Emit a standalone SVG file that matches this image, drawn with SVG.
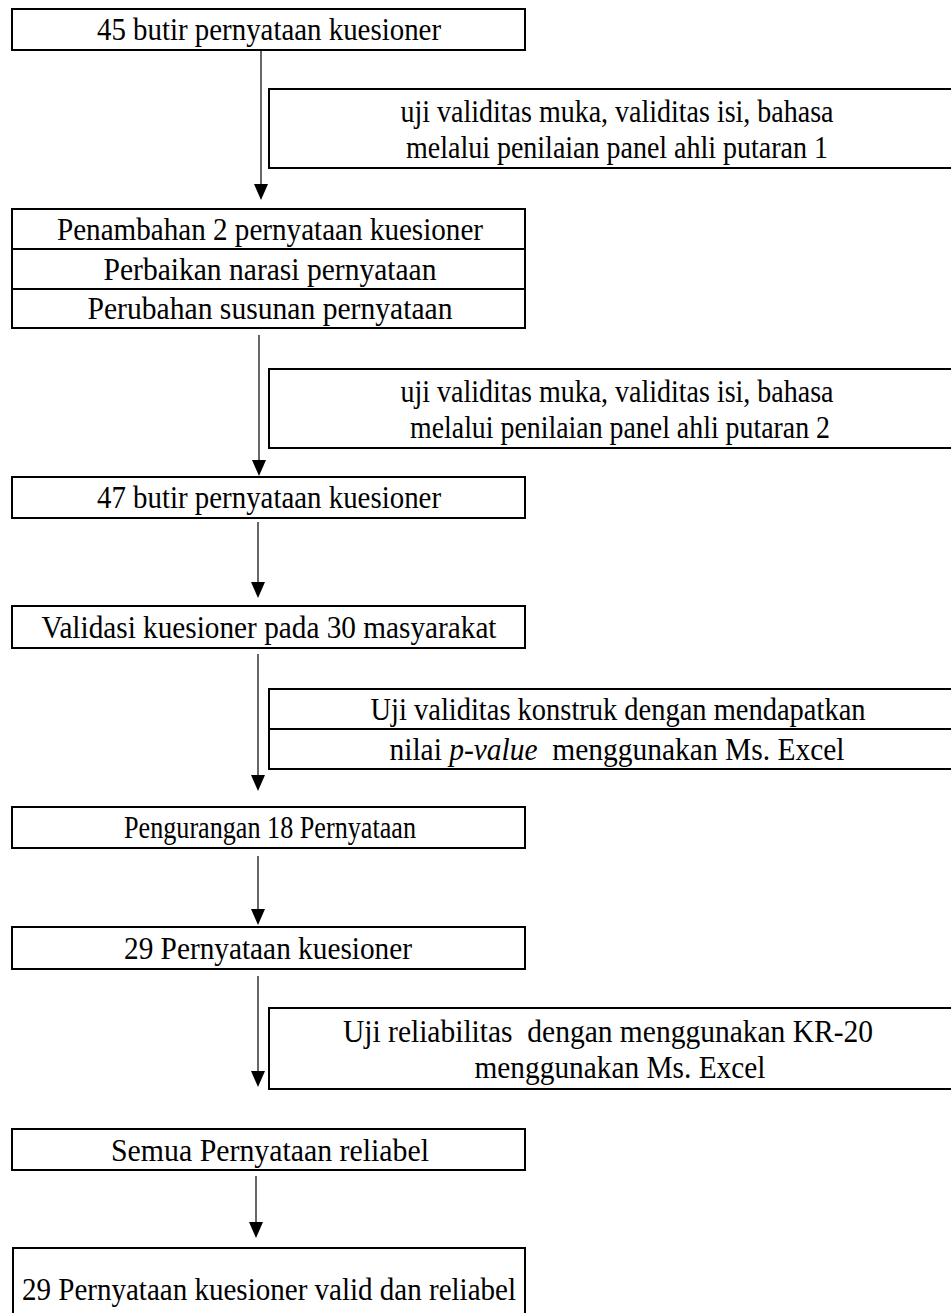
<svg xmlns="http://www.w3.org/2000/svg" width="951" height="1313" viewBox="0 0 951 1313">
<defs>
<style>
.box{fill:#fff;stroke:#000;stroke-width:2}
.t{font-family:"Liberation Serif","Times New Roman",serif;font-size:32px;fill:#000;text-anchor:middle}
.c{stroke:#000;stroke-width:1.2;fill:none}
.h{fill:#000}
</style>
</defs>
<rect width="951" height="1313" fill="#fff"/>
<g id="connectors">
<line class="c" x1="261" y1="50" x2="261" y2="186"/>
<line class="c" x1="259" y1="335" x2="259" y2="462"/>
<line class="c" x1="258" y1="522" x2="258" y2="584"/>
<line class="c" x1="258" y1="654" x2="258" y2="777"/>
<line class="c" x1="258" y1="856" x2="258" y2="911"/>
<line class="c" x1="258" y1="976" x2="258" y2="1073"/>
<line class="c" x1="256" y1="1176" x2="256" y2="1224"/>
<path class="h" d="M254,184 L268,184 L261,200 Z"/>
<path class="h" d="M252,460 L266,460 L259,476 Z"/>
<path class="h" d="M251,582 L265,582 L258,598 Z"/>
<path class="h" d="M251,775 L265,775 L258,791 Z"/>
<path class="h" d="M251,909 L265,909 L258,925 Z"/>
<path class="h" d="M251,1071 L265,1071 L258,1087 Z"/>
<path class="h" d="M249,1222 L263,1222 L256,1238 Z"/>
</g>
<g id="n1">
<rect class="box" x="12" y="9" width="513" height="41"/>
<text class="t" x="269" y="40" textLength="344" lengthAdjust="spacingAndGlyphs">45 butir pernyataan kuesioner</text>
</g>
<g id="s1">
<rect class="box" x="269" y="89" width="700" height="79"/>
<text class="t" x="617" y="122" textLength="433" lengthAdjust="spacingAndGlyphs">uji validitas muka, validitas isi, bahasa</text>
<text class="t" x="617" y="158" textLength="422" lengthAdjust="spacingAndGlyphs">melalui penilaian panel ahli putaran 1</text>
</g>
<g id="n2">
<rect class="box" x="12" y="209" width="513" height="40"/>
<rect class="box" x="12" y="249" width="513" height="40"/>
<rect class="box" x="12" y="289" width="513" height="39"/>
<text class="t" x="270" y="240" textLength="426" lengthAdjust="spacingAndGlyphs">Penambahan 2 pernyataan kuesioner</text>
<text class="t" x="270" y="280" textLength="333" lengthAdjust="spacingAndGlyphs">Perbaikan narasi pernyataan</text>
<text class="t" x="270" y="319" textLength="365" lengthAdjust="spacingAndGlyphs">Perubahan susunan pernyataan</text>
</g>
<g id="s2">
<rect class="box" x="269" y="369" width="700" height="79"/>
<text class="t" x="617" y="402" textLength="433" lengthAdjust="spacingAndGlyphs">uji validitas muka, validitas isi, bahasa</text>
<text class="t" x="620" y="438" textLength="420" lengthAdjust="spacingAndGlyphs">melalui penilaian panel ahli putaran 2</text>
</g>
<g id="n3">
<rect class="box" x="12" y="477" width="513" height="41"/>
<text class="t" x="269" y="508" textLength="344" lengthAdjust="spacingAndGlyphs">47 butir pernyataan kuesioner</text>
</g>
<g id="n4">
<rect class="box" x="12" y="606" width="513" height="42"/>
<text class="t" x="269" y="638" textLength="455" lengthAdjust="spacingAndGlyphs">Validasi kuesioner pada 30 masyarakat</text>
</g>
<g id="s3">
<rect class="box" x="269" y="689" width="700" height="40"/>
<rect class="box" x="269" y="729" width="700" height="40"/>
<text class="t" x="618" y="720" textLength="495" lengthAdjust="spacingAndGlyphs">Uji validitas konstruk dengan mendapatkan</text>
<text class="t" x="617" y="760" textLength="455" lengthAdjust="spacingAndGlyphs" xml:space="preserve">nilai <tspan font-style="italic">p-value</tspan>  menggunakan Ms. Excel</text>
</g>
<g id="n5">
<rect class="box" x="12" y="807" width="513" height="41"/>
<text class="t" x="270" y="838" textLength="292" lengthAdjust="spacingAndGlyphs">Pengurangan 18 Pernyataan</text>
</g>
<g id="n6">
<rect class="box" x="12" y="927" width="513" height="42"/>
<text class="t" x="268" y="959" textLength="288" lengthAdjust="spacingAndGlyphs">29 Pernyataan kuesioner</text>
</g>
<g id="s4">
<rect class="box" x="269" y="1008" width="700" height="81"/>
<text class="t" x="608" y="1042" textLength="530" lengthAdjust="spacingAndGlyphs" xml:space="preserve">Uji reliabilitas  dengan menggunakan KR-20</text>
<text class="t" x="620" y="1078" textLength="291" lengthAdjust="spacingAndGlyphs">menggunakan Ms. Excel</text>
</g>
<g id="n7">
<rect class="box" x="12" y="1129" width="513" height="41"/>
<text class="t" x="270" y="1161" textLength="318" lengthAdjust="spacingAndGlyphs">Semua Pernyataan reliabel</text>
</g>
<g id="n8">
<rect class="box" x="13" y="1248" width="512" height="90"/>
<text class="t" x="269" y="1300" textLength="494" lengthAdjust="spacingAndGlyphs">29 Pernyataan kuesioner valid dan reliabel</text>
</g>
</svg>
